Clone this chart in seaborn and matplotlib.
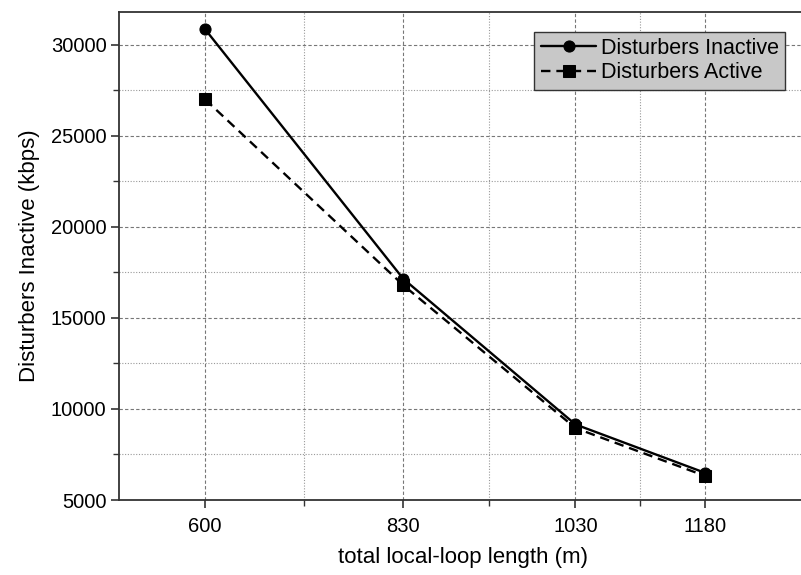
import numpy as np
import pandas as pd
import matplotlib
matplotlib.use('Agg')
import matplotlib.pyplot as plt
from matplotlib.ticker import FixedLocator, MultipleLocator
import seaborn as sns

# data
loop_length = [600, 830, 1030, 1180]
inactive = [30850, 17150, 9150, 6500]
active = [27000, 16800, 8950, 6330]

SERIES = ['Disturbers Inactive', 'Disturbers Active']

df = pd.DataFrame({
    'length': loop_length * 2,
    'rate': inactive + active,
    'series': [SERIES[0]] * len(loop_length) + [SERIES[1]] * len(loop_length),
})

sns.set_style('ticks')
plt.rcParams['font.family'] = ['Liberation Sans', 'DejaVu Sans']
plt.rcParams['text.color'] = 'black'
plt.rcParams['axes.labelcolor'] = 'black'
plt.rcParams['xtick.color'] = '#333333'
plt.rcParams['ytick.color'] = '#333333'
plt.rcParams['xtick.labelcolor'] = 'black'
plt.rcParams['ytick.labelcolor'] = 'black'

fig = plt.figure(figsize=(8.01, 5.75), dpi=100)
ax = fig.add_axes([119 / 801, 75 / 575, (808 - 119) / 801, 488 / 575])

sns.lineplot(data=df, x='length', y='rate', hue='series', style='series',
             palette={SERIES[0]: 'black', SERIES[1]: 'black'},
             markers={SERIES[0]: 'o', SERIES[1]: 's'},
             dashes={SERIES[0]: '', SERIES[1]: (4, 2.5)},
             markersize=8, linewidth=1.7, markeredgecolor='black',
             ax=ax)

ax.set_xlim(500, 1300)
ax.set_ylim(5000, 31800)

# major ticks on the data points, minor ticks halfway between them
mids = [(a + b) / 2 for a, b in zip(loop_length[:-1], loop_length[1:])]
ax.xaxis.set_major_locator(FixedLocator(loop_length))
ax.xaxis.set_minor_locator(FixedLocator(mids))
ax.yaxis.set_major_locator(MultipleLocator(5000))
ax.yaxis.set_minor_locator(MultipleLocator(2500))

ax.grid(which='major', color='#777777', linestyle=(0, (3, 2)), linewidth=0.8)
ax.grid(which='minor', color='#999999', linestyle=(0, (1, 1.5)), linewidth=0.8)
ax.set_axisbelow(True)

ax.tick_params(which='major', direction='out', length=6, width=1.2, labelsize=14.5)
ax.tick_params(axis='y', which='major', pad=3)
ax.tick_params(axis='x', which='major', pad=6)
ax.tick_params(which='minor', direction='out', length=4, width=1.0)

for s in ax.spines.values():
    s.set_linewidth(1.3)
    s.set_color('#333333')

ax.set_xlabel('total local-loop length (m)', fontsize=16, labelpad=8)
ax.set_ylabel('Disturbers Inactive (kbps)', fontsize=16, labelpad=8)

leg = ax.legend(loc='upper right', bbox_to_anchor=(0.967, 0.96), fontsize=15.5,
                frameon=True, fancybox=False, handlelength=2.6, handletextpad=0.2,
                borderpad=0.3, labelspacing=0.15, borderaxespad=0)
leg.get_frame().set_facecolor('#c8c8c8')
leg.get_frame().set_edgecolor('#333333')
leg.get_frame().set_linewidth(1.0)
leg.get_frame().set_alpha(1)

fig.savefig('out.png', dpi=100)
